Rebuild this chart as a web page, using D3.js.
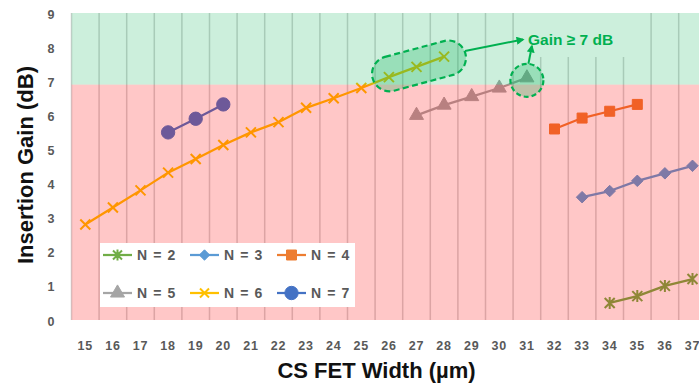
<!DOCTYPE html>
<html><head><meta charset="utf-8">
<script src="https://cdn.jsdelivr.net/npm/d3@7"></script>
<style>html,body{margin:0;padding:0;background:#fff;overflow:hidden}
text{font-family:"Liberation Sans",Arial,sans-serif;font-weight:bold}</style>
</head><body><svg id="c" width="699" height="385"></svg>
<script>
// ---------- data ----------
const categories = [15,16,17,18,19,20,21,22,23,24,25,26,27,28,29,30,31,32,33,34,35,36,37];
const yTicks = [0,1,2,3,4,5,6,7,8,9];
const seriesNames = ["N = 2","N = 3","N = 4","N = 5","N = 6","N = 7"];
const n2Width = [34,35,36,37];
const n2Gain  = [0.5,0.7,1.0,1.2];
const n3Width = [33,34,35,36,37];
const n3Gain  = [3.6,3.78,4.08,4.3,4.52];
const n4Width = [32,33,34,35];
const n4Gain  = [5.6,5.92,6.12,6.32];
const n5Width = [27,28,29,30,31];
const n5Gain  = [6.0,6.3,6.55,6.8,7.1];
const n6Width = [15,16,17,18,19,20,21,22,23,24,25,26,27,28];
const n6Gain  = [2.8,3.3,3.8,4.32,4.72,5.13,5.5,5.8,6.22,6.5,6.8,7.12,7.42,7.72];
const n7Width = [18,19,20];
const n7Gain  = [5.5,5.9,6.32];
const bandSplit = 6.9;          // boundary of shaded regions
const annotationText = "Gain \u2265 7 dB";
const xTitle = "CS FET Width (\u00b5m)";
const yTitle = "Insertion Gain (dB)";

// ---------- styles ----------
const colors = ["#70AD47","#5B9BD5","#ED7D31","#A5A5A5","#FFC000","#4472C4"];
const markers = ["asterisk","diamond","square","triangle","x","circle"];
const green = "#00B050";

const svg = d3.select("#c");
const pLeft = 71.5, bw = 27.6, pTop = 13, pBottom = 320;
const x = d3.scaleBand().domain(categories).range([pLeft, pLeft + categories.length*bw]);
const xc = v => x(v) + x.bandwidth()/2;
const y = d3.scaleLinear().domain([0,9]).range([pBottom, pTop]);
const plotRight = pLeft + categories.length*bw;

// gridlines
svg.append("g").selectAll("line").data(categories.concat(["end"])).join("line")
  .attr("x1", d => d === "end" ? plotRight : x(d)).attr("x2", d => d === "end" ? plotRight : x(d))
  .attr("y1", pTop).attr("y2", pBottom)
  .attr("stroke", "#d2d2d2").attr("stroke-width", 1.5);

function markerPath(type, s) {
  switch (type) {
    case "asterisk": return `M${-s},${-s}L${s},${s}M${-s},${s}L${s},${-s}M0,${-s*1.2}L0,${s*1.2}`;
    case "x": return `M${-s},${-s}L${s},${s}M${-s},${s}L${s},${-s}`;
    case "diamond": return `M0,${-s*1.15}L${s*1.15},0L0,${s*1.15}L${-s*1.15},0Z`;
    case "square": return d3.symbol(d3.symbolSquare, 100)();
    case "triangle": return d3.symbol(d3.symbolTriangle, 85)();
    case "circle": return d3.symbol(d3.symbolCircle, 140)();
  }
}
function drawMarker(g, type, color, cx, cy, s) {
  const p = g.append("path").attr("d", markerPath(type, s)).attr("transform", `translate(${cx},${cy})`);
  if (type === "asterisk" || type === "x") p.attr("fill","none").attr("stroke", color).attr("stroke-width", 2);
  else p.attr("fill", color).attr("stroke", color).attr("stroke-width", 1);
}

const series = [
  [n2Width, n2Gain], [n3Width, n3Gain], [n4Width, n4Gain],
  [n5Width, n5Gain], [n6Width, n6Gain], [n7Width, n7Gain]
];
const line = d3.line().x(d => xc(d[0])).y(d => y(d[1]));
const sg = svg.append("g");
series.forEach(([w, g], i) => {
  const pts = w.map((v, k) => [v, g[k]]);
  sg.append("path").datum(pts).attr("d", line).attr("fill","none")
    .attr("stroke", colors[i]).attr("stroke-width", 2.25).attr("stroke-linejoin","round");
  pts.forEach(p => drawMarker(sg, markers[i], colors[i], xc(p[0]), y(p[1]), 5));
});

// shaded regions (translucent, over series)
svg.append("rect").attr("x", pLeft).attr("y", y(9)).attr("width", plotRight-pLeft)
  .attr("height", y(bandSplit)-y(9)).attr("fill", green).attr("fill-opacity", 0.2);
svg.append("rect").attr("x", pLeft).attr("y", y(bandSplit)).attr("width", plotRight-pLeft)
  .attr("height", y(0)-y(bandSplit)).attr("fill", "#FF0000").attr("fill-opacity", 0.22);

// annotation text box
svg.append("rect").attr("x", 524).attr("y", pTop).attr("width", 118).attr("height", 44).attr("fill", "#fff");
svg.append("rect").attr("x", 524).attr("y", pTop).attr("width", 118).attr("height", 44)
  .attr("fill", green).attr("fill-opacity", 0.2);

// highlight capsule around N=6 points 26..28
const p1 = [xc(26), y(n6Gain[11])], p2 = [xc(28), y(n6Gain[13])];
const cx = (p1[0]+p2[0])/2 + 2.5, cy = (p1[1]+p2[1])/2 - 1;
const capLen = 96, capH = 35;
svg.append("rect").attr("x", -capLen/2).attr("y", -capH/2).attr("width", capLen).attr("height", capH)
  .attr("rx", capH/2).attr("transform", `translate(${cx},${cy}) rotate(-15)`)
  .attr("fill", green).attr("fill-opacity", 0.25)
  .attr("stroke", green).attr("stroke-width", 2.2).attr("stroke-dasharray", "6,3.5");
// circle around N=5 at 31
const c5 = [xc(31), y(n5Gain[4]) + 2.5];
svg.append("circle").attr("cx", c5[0]).attr("cy", c5[1]).attr("r", 16.5)
  .attr("fill", green).attr("fill-opacity", 0.25)
  .attr("stroke", green).attr("stroke-width", 2.2).attr("stroke-dasharray", "5,3");

// arrows
svg.append("defs").append("marker").attr("id","ah").attr("viewBox","0 0 10 10")
  .attr("refX", 8).attr("refY", 5).attr("markerWidth", 4).attr("markerHeight", 4)
  .attr("orient","auto").attr("markerUnits","strokeWidth")
  .append("path").attr("d","M0,0L10,5L0,10Z").attr("fill", green);
svg.append("line").attr("x1", cx + 46).attr("y1", cy - 15).attr("x2", 523).attr("y2", 39.5)
  .attr("stroke", green).attr("stroke-width", 2).attr("marker-end","url(#ah)");
svg.append("line").attr("x1", c5[0] + 1.5).attr("y1", c5[1] - 16.5).attr("x2", c5[0] + 5).attr("y2", 46)
  .attr("stroke", green).attr("stroke-width", 2).attr("marker-end","url(#ah)");
svg.append("text").attr("x", 528).attr("y", 44.5).attr("fill", green).attr("font-size", 15.5)
  .text(annotationText);

// legend
const lg = svg.append("g");
lg.append("rect").attr("x", 100).attr("y", 243).attr("width", 255).attr("height", 64).attr("fill", "#fff");
seriesNames.forEach((name, i) => {
  const col = i % 3, row = Math.floor(i / 3);
  const lx = 103 + col*87, ly = 255 + row*38;
  lg.append("line").attr("x1", lx).attr("x2", lx+29).attr("y1", ly).attr("y2", ly)
    .attr("stroke", colors[i]).attr("stroke-width", 2.25);
  drawMarker(lg, markers[i], colors[i], lx+14.5, ly, 4.5);
  lg.append("text").attr("x", lx+34).attr("y", ly).attr("dy","0.36em")
    .attr("fill","#595959").attr("font-size", 14).attr("letter-spacing", 1.1).text(name);
});

// axes
const xa = svg.append("g").attr("transform", `translate(0,${pBottom})`)
  .call(d3.axisBottom(x).tickSize(0).tickPadding(0));
xa.select(".domain").remove();
xa.selectAll("text").attr("y", 29.5).attr("dy", 0).attr("fill","#595959")
  .attr("font-size", 12.5).attr("letter-spacing", 0.8)
  .attr("font-family", '"Liberation Sans",Arial,sans-serif').attr("font-weight","bold");
const ya = svg.append("g").attr("transform", `translate(54.5,1)`)
  .call(d3.axisLeft(y).tickValues(yTicks).tickSize(0).tickPadding(0));
ya.select(".domain").remove();
ya.selectAll("text").attr("fill","#595959").attr("font-size", 12.5)
  .attr("font-family", '"Liberation Sans",Arial,sans-serif').attr("font-weight","bold");

svg.append("text").attr("x", 376.5).attr("y", 377.7).attr("text-anchor","middle")
  .attr("font-size", 22).attr("fill","#111").text(xTitle);
svg.append("text").attr("transform","translate(32.5,165) rotate(-90)").attr("text-anchor","middle")
  .attr("font-size", 22).attr("fill","#111").text(yTitle);
</script></body></html>
